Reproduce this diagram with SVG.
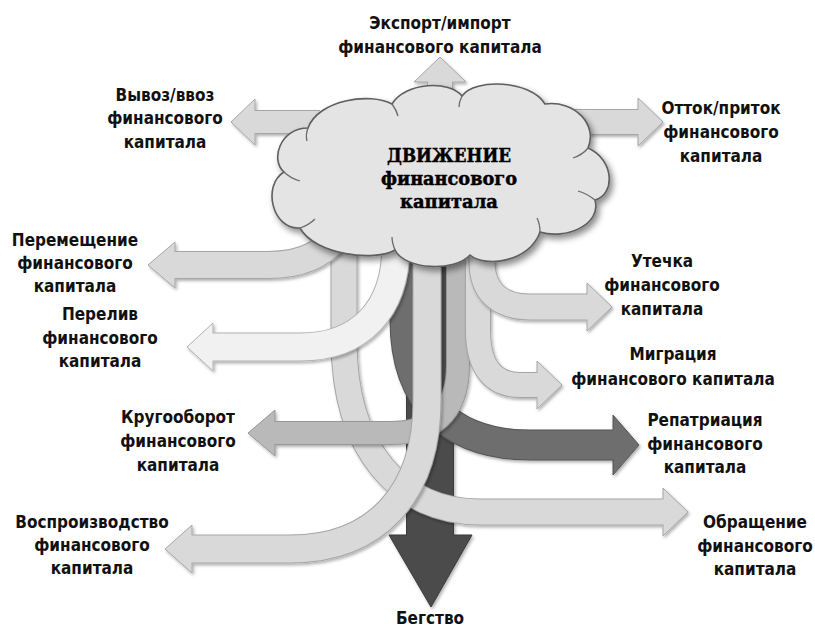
<svg xmlns="http://www.w3.org/2000/svg" width="815" height="627" viewBox="0 0 815 627">
<defs>
<filter id="sh" x="-20%" y="-20%" width="140%" height="140%"><feDropShadow dx="1.5" dy="2" stdDeviation="1.5" flood-color="#000" flood-opacity="0.3"/></filter>
<filter id="csh" x="-10%" y="-10%" width="125%" height="130%"><feDropShadow dx="3" dy="4" stdDeviation="3" flood-color="#000" flood-opacity="0.45"/></filter>
</defs>
<style>
.o,.f{fill:none;stroke-linecap:butt;stroke-linejoin:round}
.lt .o{stroke:#a6a6a6}.lt .f{stroke:#d9d9d9}.lt polygon{fill:#d9d9d9;stroke:#a6a6a6}
.vl .o{stroke:#b0b0b0}.vl .f{stroke:#f1f1f1}.vl polygon{fill:#f1f1f1;stroke:#b0b0b0}
.md .o{stroke:#979797}.md .f{stroke:#b9b9b9}.md polygon{fill:#b9b9b9;stroke:#979797}
.dk .o{stroke:#555}.dk .f{stroke:#6e6e6e}.dk polygon{fill:#6e6e6e;stroke:#555}
.xd .o{stroke:#3a3a3a}.xd .f{stroke:#4b4b4b}.xd polygon{fill:#4b4b4b;stroke:#3a3a3a}
polygon{stroke-width:1;stroke-linejoin:miter}
.arr{filter:url(#sh)}
.lbl{font-family:"DejaVu Sans Condensed","DejaVu Sans",sans-serif;font-stretch:condensed;font-weight:bold;font-size:17px;fill:#111;text-anchor:middle}
.ctr{font-family:"DejaVu Serif","Liberation Serif",serif;font-weight:bold;font-size:19px;fill:#000;stroke:#000;stroke-width:0.5;text-anchor:middle}
.cl{fill:#e4e4e4;stroke:#5e5e5e;stroke-width:1.6}
.ca{fill:none;stroke:#6a6a6a;stroke-width:1.3}
</style>
<g id="connectors">
 <g id="arrow-begstvo" class="arr xd">
  <path class="o" stroke-width="48" d="M430,250 L430,537"/>
  <polygon points="389,535 472,535 431,607"/>
  <path class="f" stroke-width="46" d="M430,250 L430,538"/>
 </g>
 <g id="arrow-repatriaciya" class="arr dk">
  <path class="o" stroke-width="31" d="M405,250 L405,320 C405,400 450,445 530,445 L614,445"/>
  <polygon points="613,415 639,445 613,475"/>
  <path class="f" stroke-width="29" d="M405,250 L405,320 C405,400 450,445 530,445 L616,445"/>
 </g>
 <g id="arrow-obrashchenie" class="arr lt">
  <path class="o" stroke-width="27" d="M344,245 L344,340 C344,450 400,512 480,512 L664,512"/>
  <polygon points="663,488 688,512 663,536"/>
  <path class="f" stroke-width="25" d="M344,245 L344,340 C344,450 400,512 480,512 L666,512"/>
 </g>
 <g id="arrow-krugooborot" class="arr md">
  <path class="o" stroke-width="24" d="M458,250 L458,365 C458,415 430,433 390,433 L274,433"/>
  <polygon points="275,410 248,433 275,456"/>
  <path class="f" stroke-width="22" d="M458,250 L458,365 C458,415 430,433 390,433 L272,433"/>
 </g>
 <g id="arrow-vosproizvodstvo" class="arr lt">
  <path class="o" stroke-width="29" d="M427,250 L427,400 C427,495 375,549 290,549 L191,549"/>
  <polygon points="192,525 165,549 192,573"/>
  <path class="f" stroke-width="27" d="M427,250 L427,400 C427,495 375,549 290,549 L189,549"/>
 </g>
 <g id="arrow-migraciya" class="arr lt">
  <path class="o" stroke-width="26" d="M478,250 L478,330 C478,368 494,385 520,385 L538,385"/>
  <polygon points="537,361 562,385 537,409"/>
  <path class="f" stroke-width="24" d="M478,250 L478,330 C478,368 494,385 520,385 L540,385"/>
 </g>
 <g id="arrow-utechka" class="arr lt">
  <path class="o" stroke-width="27" d="M482,245 L482,262 C482,292 500,307 530,307 L588,307"/>
  <polygon points="587,283 612,307 587,331"/>
  <path class="f" stroke-width="25" d="M482,245 L482,262 C482,292 500,307 530,307 L590,307"/>
 </g>
 <g id="arrow-pereliv" class="arr vl">
  <path class="o" stroke-width="29" d="M396,245 C396,310 360,347 300,347 L212,347"/>
  <polygon points="213,323 187,347 213,371"/>
  <path class="f" stroke-width="27" d="M396,245 C396,310 360,347 300,347 L210,347"/>
 </g>
 <g id="arrow-peremeshchenie" class="arr lt">
  <path class="o" stroke-width="28" d="M345,222 Q326,265 268,265 L174,265"/>
  <polygon points="175,242 148,265 175,288"/>
  <path class="f" stroke-width="26" d="M345,222 Q326,265 268,265 L172,265"/>
 </g>
 <g id="arrow-eksport" class="arr lt">
  <path class="o" stroke-width="26" d="M440,135 L440,81"/>
  <polygon points="414,82 466,82 440,57"/>
  <path class="f" stroke-width="24" d="M440,135 L440,79"/>
 </g>
 <g id="arrow-vyvoz" class="arr lt">
  <path class="o" stroke-width="24" d="M320,122 L254,122"/>
  <polygon points="255,99 231,122 255,145"/>
  <path class="f" stroke-width="22" d="M320,122 L252,122"/>
 </g>
 <g id="arrow-ottok" class="arr lt">
  <path class="o" stroke-width="26" d="M570,122 L640,122"/>
  <polygon points="638,98 663,122 638,146"/>
  <path class="f" stroke-width="24" d="M570,122 L641,122"/>
 </g>
</g>
<g id="node-center">
 <path class="cl" filter="url(#csh)" d="M300,228 C272,230 262,185 284,172 C270,160 280,128 308,128 C318,100 370,92 392,104 C405,82 450,80 462,96 C475,78 530,80 545,104 C575,100 598,125 588,148 C615,160 615,195 595,200 C602,225 565,240 540,232 C530,262 485,268 470,255 C455,272 405,270 395,250 C375,262 315,255 300,228 Z"/>
 <path class="ca" d="M284,172 C288,176 293,179 300,181"/>
 <path class="ca" d="M308,128 C306,133 306,137 307,141"/>
 <path class="ca" d="M392,104 C395,108 397,112 398,116"/>
 <path class="ca" d="M462,96 C460,100 459,103 459,107"/>
 <path class="ca" d="M588,148 C584,153 579,156 573,158"/>
 <path class="ca" d="M595,200 C590,196 585,193 578,191"/>
 <path class="ca" d="M540,232 C540,226 539,222 537,218"/>
 <path class="ca" d="M395,250 C393,245 392,241 392,237"/>
 <path class="ca" d="M300,228 C306,226 311,223 315,219"/>
 <text class="ctr" x="449" y="162" textLength="124" lengthAdjust="spacingAndGlyphs">ДВИЖЕНИЕ</text>
 <text class="ctr" x="449" y="185" textLength="136" lengthAdjust="spacingAndGlyphs">финансового</text>
 <text class="ctr" x="449" y="208" textLength="98" lengthAdjust="spacingAndGlyphs">капитала</text>
</g>
<g id="node-eksport"><text class="lbl" x="440" y="29">Экспорт/импорт</text><text class="lbl" x="440" y="53">финансового капитала</text></g>
<g id="node-vyvoz"><text class="lbl" x="165" y="101">Вывоз/ввоз</text><text class="lbl" x="165" y="124">финансового</text><text class="lbl" x="165" y="148">капитала</text></g>
<g id="node-ottok"><text class="lbl" x="721" y="114">Отток/приток</text><text class="lbl" x="721" y="138">финансового</text><text class="lbl" x="721" y="162">капитала</text></g>
<g id="node-peremeshchenie"><text class="lbl" x="75" y="246">Перемещение</text><text class="lbl" x="75" y="269">финансового</text><text class="lbl" x="75" y="292">капитала</text></g>
<g id="node-pereliv"><text class="lbl" x="100" y="320">Перелив</text><text class="lbl" x="100" y="344">финансового</text><text class="lbl" x="100" y="367">капитала</text></g>
<g id="node-krugooborot"><text class="lbl" x="178" y="423">Кругооборот</text><text class="lbl" x="178" y="447">финансового</text><text class="lbl" x="178" y="471">капитала</text></g>
<g id="node-vosproizvodstvo"><text class="lbl" x="92" y="528">Воспроизводство</text><text class="lbl" x="92" y="551">финансового</text><text class="lbl" x="92" y="574">капитала</text></g>
<g id="node-utechka"><text class="lbl" x="662" y="267">Утечка</text><text class="lbl" x="662" y="291">финансового</text><text class="lbl" x="662" y="315">капитала</text></g>
<g id="node-migraciya"><text class="lbl" x="673" y="360">Миграция</text><text class="lbl" x="673" y="385">финансового капитала</text></g>
<g id="node-repatriaciya"><text class="lbl" x="705" y="426">Репатриация</text><text class="lbl" x="705" y="450">финансового</text><text class="lbl" x="705" y="473">капитала</text></g>
<g id="node-obrashchenie"><text class="lbl" x="755" y="528">Обращение</text><text class="lbl" x="755" y="552">финансового</text><text class="lbl" x="755" y="575">капитала</text></g>
<g id="node-begstvo"><text class="lbl" x="430" y="624">Бегство</text></g>
</svg>
